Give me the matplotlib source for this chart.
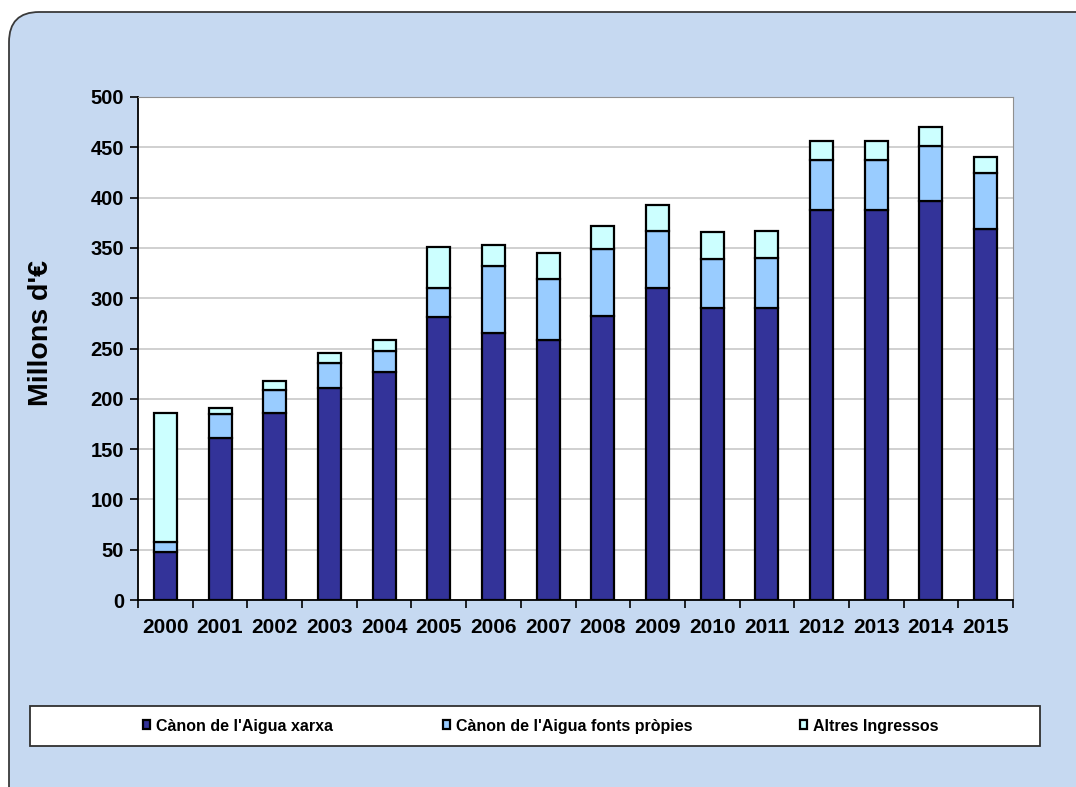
import matplotlib
matplotlib.use("Agg")
import matplotlib.pyplot as plt
from matplotlib.patches import FancyBboxPatch, Rectangle
import numpy as np

years = ["2000", "2001", "2002", "2003", "2004", "2005", "2006", "2007",
         "2008", "2009", "2010", "2011", "2012", "2013", "2014", "2015"]
canon_xarxa = [48, 161, 186, 211, 227, 281, 265, 258, 282, 310, 290, 290, 388, 388, 397, 369]
canon_fonts = [10, 24, 23, 25, 21, 29, 67, 61, 67, 57, 49, 50, 49, 49, 54, 55]
altres = [128, 6, 9, 10, 10, 41, 21, 26, 23, 26, 27, 27, 19, 19, 19, 16]
series_names = ["Cànon de l'Aigua xarxa", "Cànon de l'Aigua fonts pròpies", "Altres Ingressos"]
colors = ["#333399", "#99CCFF", "#CCFFFF"]

plt.rcParams['font.family'] = ['Liberation Sans', 'DejaVu Sans']

W, H = 1076, 787
fig = plt.figure(figsize=(W / 100, H / 100), dpi=100)
fig.patch.set_facecolor("white")

# rounded background panel
bg = FancyBboxPatch((9 / W, -0.05), (W + 40) / W, 1 - 12 / H + 0.05,
                    boxstyle="round,pad=0,rounding_size=0.028",
                    transform=fig.transFigure, facecolor="#C6D9F1",
                    edgecolor="#3a3a3a", linewidth=1.3, mutation_aspect=W / H,
                    zorder=-2)
fig.patches.append(bg)

ax = fig.add_axes([138 / W, 1 - 600 / H, (1013 - 138) / W, (600 - 97) / H])
ax.set_facecolor("white")

x = np.arange(len(years))
bottom = np.zeros(len(years))
handles = []
for vals, col, name in zip([canon_xarxa, canon_fonts, altres], colors, series_names):
    b = ax.bar(x, vals, width=0.42, bottom=bottom, color=col, edgecolor="black",
               linewidth=1.6, label=name, zorder=3)
    handles.append(b)
    bottom = bottom + np.array(vals)

ax.set_ylim(0, 500)
ax.set_xlim(-0.5, len(years) - 0.5)
ax.set_yticks(np.arange(0, 501, 50))
ax.yaxis.grid(True, color="#C8C8C8", linewidth=1.2, zorder=0)
ax.set_axisbelow(True)

ax.set_xticks(x)
ax.set_xticklabels(years, fontsize=15, fontweight="bold")
ax.tick_params(axis="x", length=0, pad=13)
ax.set_xticks(np.arange(-0.5, len(years), 1), minor=True)
ax.tick_params(axis="x", which="minor", length=6, width=1.2, direction="out", color="black")
for lab in ax.get_yticklabels():
    lab.set_fontsize(14.5)
    lab.set_fontweight("bold")
ax.tick_params(axis="y", length=6, width=1.2, direction="out", pad=4)

ax.spines["left"].set_color("black")
ax.spines["bottom"].set_color("black")
ax.spines["left"].set_linewidth(1.3)
ax.spines["bottom"].set_linewidth(1.3)
ax.spines["top"].set_color("#909090")
ax.spines["right"].set_color("#909090")

fig.text(41 / W, 1 - 333 / H, "Millons d'€", rotation=90, fontsize=20.5,
         fontweight="bold", ha="center", va="center")

# legend frame
fig.patches.append(Rectangle((30 / W, 1 - 746 / H), (1040 - 30) / W, (746 - 706) / H,
                             transform=fig.transFigure, facecolor="white",
                             edgecolor="#303030", linewidth=1.3, zorder=-1))
marker_x = [143, 443, 800]
for h, name, mx in zip(handles, series_names, marker_x):
    lg = fig.legend(handles=[h], labels=[name], loc="center left",
                    bbox_to_anchor=(mx / W, 1 - 726 / H), frameon=False,
                    prop={"weight": "bold", "size": 11.5}, handlelength=0.45,
                    handleheight=0.5, handletextpad=0.35, borderaxespad=0,
                    borderpad=0)

fig.savefig("out.png", dpi=100, facecolor=fig.get_facecolor())
